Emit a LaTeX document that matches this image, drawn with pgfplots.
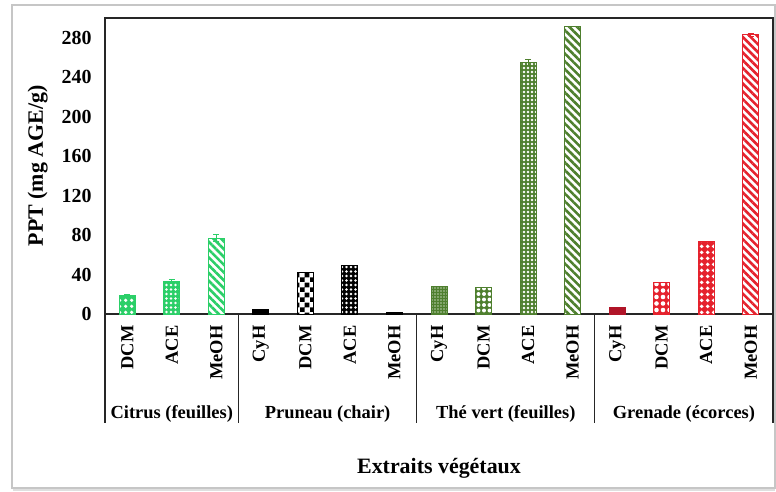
\documentclass[border=0pt]{standalone}
\usepackage{fontspec}
\setmainfont{Liberation Serif}
\usepackage{pgfplots}
\pgfplotsset{compat=1.18}
\usetikzlibrary{patterns.meta}
\definecolor{citg}{HTML}{2BCF68}
\definecolor{theg}{HTML}{4E7F2E}
\definecolor{gred}{HTML}{E5222D}
\definecolor{dred}{HTML}{B01428}
\newcommand\fs[1]{\fontsize{#1}{#1}\selectfont\bfseries}
\pgfdeclarepatternformonly{bigcheck}{\pgfpointorigin}{\pgfpoint{10bp}{10bp}}{\pgfpoint{10bp}{10bp}}{%
  \pgfpathrectangle{\pgfpointorigin}{\pgfpoint{5bp}{5bp}}%
  \pgfpathrectangle{\pgfpoint{5bp}{5bp}}{\pgfpoint{5bp}{5bp}}%
  \pgfusepath{fill}}
\tikzset{
  dotsbar/.style n args={3}{color=#1, fill=#1, draw=#1, line width=1bp,
     postaction={pattern={Dots[radius=#2,distance=#3]}, pattern color=white}},
  linesbar/.style={color=#1, fill=white, draw=#1, line width=1bp,
     postaction={pattern={Lines[angle=-45,distance=5.5bp,line width=2.6bp]}, pattern color=#1}},
  solidbar/.style={color=#1, fill=#1, draw=#1, line width=1bp},
}
\begin{document}
\begin{tikzpicture}
\begin{axis}[
  name=ax,
  scale only axis, width=668bp, height=296bp,
  ymin=0, ymax=300, xmin=-0.5, xmax=14.5,
  ytick={0,40,...,280},
  xtick={0,...,14},
  xticklabels={DCM,ACE,MeOH,CyH,DCM,ACE,MeOH,CyH,DCM,ACE,MeOH,CyH,DCM,ACE,MeOH},
  major tick length=0pt,
  ybar, bar width=16bp, bar shift=0pt,
  axis line style={line width=1.2bp, black!85},
  /pgf/number format/assume math mode=true,
  yticklabel style={font=\fs{20}},
  yticklabel shift=10bp,
  xticklabel style={font=\fs{18.5}, rotate=90, anchor=east},
  xticklabel shift=8bp,
  ylabel={PPT (mg AGE/g)},
  ylabel style={font=\fs{22}, yshift=7bp},
  clip=false,
  error bars/y dir=both, error bars/y explicit,
  error bars/error bar style={line width=1bp},
  error bars/error mark options={rotate=90, mark size=3bp, line width=1bp},
]
% Citrus (feuilles)
\addplot[dotsbar={citg}{2pt}{6bp}] coordinates {(0,19) +- (0,1)};
\addplot[dotsbar={citg}{1.4pt}{4.5bp}] coordinates {(1,33) +- (0,2)};
\addplot[linesbar=citg] coordinates {(2,77) +- (0,4)};
% Pruneau (chair)
\addplot[solidbar=black] coordinates {(3,5)};
\addplot[color=black, fill=white, draw=black, line width=1bp, postaction={pattern=bigcheck, pattern color=black}] coordinates {(4,42)};
\addplot[dotsbar={black}{1.4pt}{4.5bp}] coordinates {(5,49)};
\addplot[solidbar=black] coordinates {(6,2)};
% The vert (feuilles)
\addplot[color=theg, fill=theg, draw=theg, line width=1bp, postaction={pattern={Dots[radius=0.8pt,distance=3bp]}, pattern color=theg!40!white}] coordinates {(7,28)};
\addplot[dotsbar={theg}{2pt}{5.5bp}] coordinates {(8,27)};
\addplot[dotsbar={theg}{1.3pt}{4bp}] coordinates {(9,255) +- (0,3)};
\addplot[linesbar=theg] coordinates {(10,291)};
% Grenade (ecorces)
\addplot[solidbar=dred] coordinates {(11,7)};
\addplot[dotsbar={gred}{2.3pt}{6.5bp}] coordinates {(12,32)};
\addplot[dotsbar={gred}{2.2pt}{6bp}] coordinates {(13,73)};
\addplot[linesbar=gred] coordinates {(14,283) +- (0,1.5)};
% group separators and labels
\draw[line width=1.2bp, black!85] (axis cs:-0.5,0) -- ++(0pt,-109bp);
\draw[line width=1.2bp, black!85] (axis cs:2.5,0) -- ++(0pt,-109bp);
\draw[line width=1.2bp, black!85] (axis cs:6.5,0) -- ++(0pt,-109bp);
\draw[line width=1.2bp, black!85] (axis cs:10.5,0) -- ++(0pt,-109bp);
\draw[line width=1.2bp, black!85] (axis cs:14.5,0) -- ++(0pt,-109bp);
\node[font=\fs{18.5}] at ([yshift=-100bp]axis cs:1,0) {Citrus (feuilles)};
\node[font=\fs{18.5}] at ([yshift=-100bp]axis cs:4.5,0) {Pruneau (chair)};
\node[font=\fs{18.5}] at ([yshift=-100bp]axis cs:8.5,0) {Thé vert (feuilles)};
\node[font=\fs{18.5}] at ([yshift=-100bp]axis cs:12.5,0) {Grenade (écorces)};
\node[font=\fs{22}] at ([yshift=-154bp]axis cs:7,0) {Extraits végétaux};
\end{axis}
\draw[gray!45, line width=1.5bp] ([xshift=-93bp,yshift=-174bp]ax.south west) rectangle ([xshift=2bp,yshift=13bp]ax.north east);
\draw[gray!25, line width=1.5bp] ([xshift=-92bp,yshift=-176bp]ax.south west) -- ([xshift=2bp,yshift=-176bp]ax.south east);
\pgfresetboundingbox
\path[use as bounding box] ([xshift=-105bp,yshift=-178bp]ax.south west) rectangle ([xshift=3bp,yshift=18bp]ax.north east);
\end{tikzpicture}
\end{document}
